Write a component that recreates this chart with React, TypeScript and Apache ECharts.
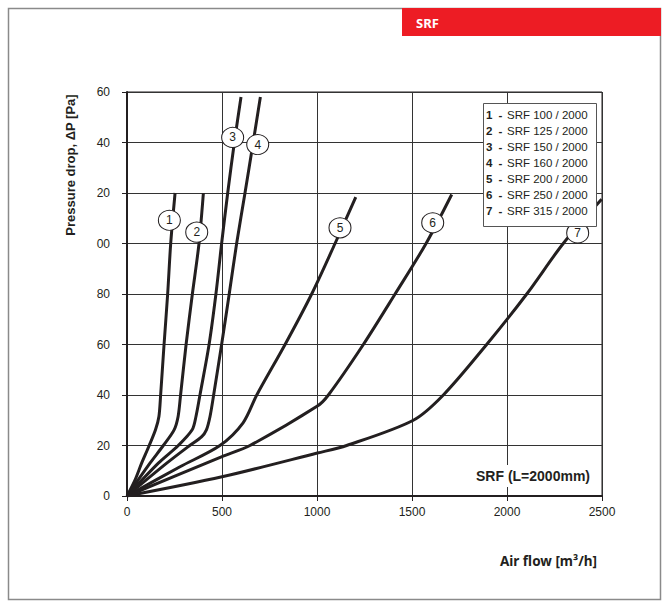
import React, { useEffect, useRef } from "react";
import * as echarts from "echarts";

const xTicks = [0, 500, 1000, 1500, 2000, 2500];
const yTickLabels = ["0", "20", "40", "60", "80", "00", "20", "40", "60"];

const s1 = [[0, 0], [42, 6.3], [77, 13], [117, 20], [150, 26.2], [168, 31.5], [177, 40], [195, 60], [214, 80], [230, 100], [253, 120]];
const s2 = [[0, 0], [121, 13], [191, 20], [248, 26.2], [269, 31.5], [282, 40], [311, 60], [344, 80], [379, 100], [402, 120]];
const s3 = [[0, 0], [165, 13], [270, 20], [343, 26.2], [363, 31.5], [384, 40], [432, 60], [468, 80], [498, 100], [530, 120], [565, 140], [600, 158]];
const s4 = [[0, 0], [209, 13], [330, 20], [392, 23.4], [418, 26.2], [437, 31.5], [456, 40], [498, 60], [538, 80], [577, 100], [621, 120], [664, 140], [702, 158]];
const s5 = [[0, 0], [279, 11.6], [489, 20], [611, 29], [683, 40], [832, 60], [972, 80], [1095, 100], [1204, 118.4]];
const s6 = [[0, 0], [500, 15.6], [647, 20], [1000, 35.5], [1060, 40], [1244, 60], [1411, 80], [1574, 100], [1709, 119.4]];
const s7 = [[0, 0], [500, 7.6], [1002, 17], [1156, 20], [1507, 30], [1665, 40], [1893, 60], [2104, 80], [2296, 100], [2498, 117.5]];
const seriesData = [s1, s2, s3, s4, s5, s6, s7];

const markerLabels = ["1", "2", "3", "4", "5", "6", "7"];
const markerPos = [[223, 109.2], [367, 104.5], [556, 142], [688, 139.2], [1121, 106.2], [1609, 108.2], [2372, 104.2]];

const legendNums = ["1", "2", "3", "4", "5", "6", "7"];
const legendNames = ["SRF 100 / 2000", "SRF 125 / 2000", "SRF 150 / 2000", "SRF 160 / 2000", "SRF 200 / 2000", "SRF 250 / 2000", "SRF 315 / 2000"];

const INK = "#231f20";

export default function App() {
  const ref = useRef<HTMLDivElement>(null);
  useEffect(() => {
    if (!ref.current) return;
    const chart = echarts.init(ref.current, null, { renderer: "svg" });
    const lineSeries = seriesData.map((d, i) => ({
      type: "line",
      name: "c" + (i + 1),
      data: d,
      smooth: 0.3,
      showSymbol: false,
      symbol: "none",
      lineStyle: { color: INK, width: 3 },
      z: 3,
    }));
    const legendGraphics: any[] = [
      {
        type: "rect",
        z: 100,
        shape: { x: 483.5, y: 103.5, width: 113, height: 123 },
        style: { fill: "#fff", stroke: "#555", lineWidth: 1 },
      },
    ];
    legendNames.forEach((n, i) => {
      const y = 115 + i * 16;
      legendGraphics.push(
        {
          type: "text",
          z: 101,
          x: 486,
          y,
          style: { text: legendNums[i], fontFamily: "Liberation Sans, Arial", fontSize: 11.5, fontWeight: "bold", fill: INK, verticalAlign: "middle" },
        },
        {
          type: "text",
          z: 101,
          x: 498.5,
          y,
          style: { text: "-", fontFamily: "Liberation Sans, Arial", fontSize: 11.5, fontWeight: "bold", fill: INK, verticalAlign: "middle" },
        },
        {
          type: "text",
          z: 101,
          x: 507,
          y,
          style: { text: n, fontFamily: "Liberation Sans, Arial", fontSize: 11.5, fill: INK, verticalAlign: "middle" },
        }
      );
    });
    chart.setOption({
      animation: false,
      backgroundColor: "#fff",
      grid: { left: 127, top: 92, width: 475, height: 404, show: true, borderColor: INK, borderWidth: 1 },
      xAxis: {
        type: "value",
        min: xTicks[0],
        max: xTicks[xTicks.length - 1],
        interval: 500,
        axisLine: { show: true, lineStyle: { color: INK, width: 2 } },
        axisTick: { show: true, length: 5, lineStyle: { color: INK } },
        axisLabel: {
          color: INK,
          fontSize: 12,
          fontFamily: "Liberation Sans, Arial",
          margin: 10,
          formatter: (v: number) => String(v),
        },
        splitLine: { show: true, lineStyle: { color: "#333", width: 1 } },
      },
      yAxis: {
        type: "value",
        min: 0,
        max: 160,
        interval: 20,
        axisLine: { show: true, lineStyle: { color: INK, width: 2 } },
        axisTick: { show: true, length: 5, lineStyle: { color: INK } },
        axisLabel: {
          color: INK,
          fontSize: 12,
          fontFamily: "Liberation Sans, Arial",
          margin: 17,
          formatter: (v: number) => yTickLabels[Math.round(v / 20)] ?? "",
        },
        splitLine: { show: true, lineStyle: { color: "#333", width: 1 } },
      },
      series: [
        ...lineSeries,
        {
          type: "scatter",
          data: markerPos.map((p, i) => ({ value: [p[0], p[1]], name: markerLabels[i] })),
          symbol: "circle",
          symbolSize: [22, 20],
          itemStyle: { color: "#fff", borderColor: INK, borderWidth: 1, opacity: 1 },
          label: {
            show: true,
            position: "inside",
            formatter: (p: any) => p.name,
            color: INK,
            fontSize: 12,
            fontFamily: "Liberation Sans, Arial",
          },
          z: 10,
        },
      ],
      graphic: [
        {
          type: "rect",
          z: 100,
          shape: { x: 8.5, y: 8.5, width: 652, height: 591 },
          style: { fill: "none", stroke: "#8a8a8a", lineWidth: 1.5 },
        },
        {
          type: "rect",
          z: 101,
          shape: { x: 402, y: 8, width: 259, height: 28 },
          style: { fill: "#ed1c24" },
        },
        {
          type: "text",
          z: 102,
          x: 416,
          y: 22.5,
          style: { text: "SRF", fill: "#fff", fontWeight: "bold", fontSize: 13, fontFamily: "Noto Sans", verticalAlign: "middle" },
        },
        {
          type: "text",
          z: 100,
          x: 70,
          y: 165,
          rotation: Math.PI / 2,
          style: {
            text: "Pressure drop, ΔP [Pa]",
            fill: INK,
            fontWeight: "bold",
            fontSize: 13,
            fontFamily: "Liberation Sans, Arial",
            align: "center",
            verticalAlign: "middle",
          },
        },
        {
          type: "text",
          z: 100,
          x: 597,
          y: 561,
          style: {
            text: "Air flow [m³/h]",
            fill: INK,
            fontWeight: "bold",
            fontSize: 13.5,
            fontFamily: "Noto Sans",
            align: "right",
            verticalAlign: "middle",
          },
        },
        {
          type: "rect",
          z: 100,
          shape: { x: 455, y: 465, width: 138, height: 22 },
          style: { fill: "#fff" },
        },
        {
          type: "text",
          z: 101,
          x: 590,
          y: 476,
          style: {
            text: "SRF (L=2000mm)",
            fill: INK,
            fontWeight: "bold",
            fontSize: 14,
            fontFamily: "Liberation Sans, Arial",
            align: "right",
            verticalAlign: "middle",
          },
        },
        ...legendGraphics,
      ],
    });
    return () => chart.dispose();
  }, []);
  return <div ref={ref} style={{ position: "fixed", left: 0, top: 0, width: 668, height: 607, background: "#fff" }} />;
}
